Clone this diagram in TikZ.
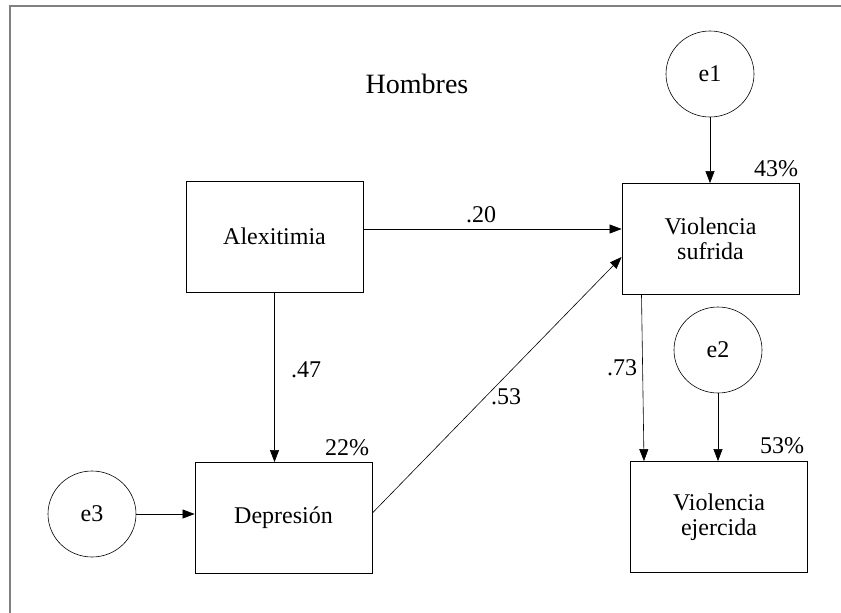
\documentclass[tikz,border=0pt]{standalone}
\usepackage{fontspec}
\setmainfont{Liberation Serif}
\usetikzlibrary{arrows.meta,shapes.geometric}

\tikzset{
  var/.style={draw, line width=0.8pt, minimum width=177pt, minimum height=111pt,
    align=center, font=\fontsize{24}{25}\selectfont},
  err/.style={draw, ellipse, line width=0.6pt, minimum width=88pt, minimum height=86pt,
    inner sep=0pt, font=\fontsize{24}{25}\selectfont},
  conn/.style={-{Triangle[length=12pt,width=9pt]}, line width=0.6pt},
  lbl/.style={anchor=base, font=\fontsize{24}{25}\selectfont},
}

\begin{document}
\begin{tikzpicture}[x=1pt,y=-1pt]
\useasboundingbox (0,0) rectangle (841,613);
\draw[gray, line width=1.5pt] (10,613) -- (10,6) -- (841,6);

\node[lbl, font=\fontsize{28}{30}\selectfont] (title) at (417,93) {Hombres};

% variables
\node[var] (alex) at (274.5,236.5) {Alexitimia};
\node[var] (sufrida) at (710.5,239) {Violencia\\sufrida};
\node[var] (depre) at (283.5,518) {Depresión};
\node[var] (ejercida) at (719,517) {Violencia\\ejercida};

% errores
\foreach \n/\x/\y in {e1/710/74, e2/718/350, e3/92/514}
  \node[err] (\n) at (\x,\y) {\n};

% caminos
\draw[conn] ([yshift=7.5pt]alex.east) -- ([yshift=7.5pt]alex.east -| sufrida.west);
\draw[conn] ([yshift=5pt]depre.east) -- ([yshift=-18pt]sufrida.west);
\draw[conn] (alex.south) -- (alex.south |- depre.north);
\draw[conn] ([xshift=-69pt]sufrida.south) -- ([xshift=-75pt]ejercida.north);
\draw[conn] (e1.south) -- (e1.south |- sufrida.north);
\draw[conn] (e2.south) -- (e2.south |- ejercida.north);
\draw[conn] (e3.east) -- (e3.east -| depre.west);

% coeficientes
\foreach \n/\x/\y/\t in {c20/481/222/.20, c47/306/377/.47, c53/506/404/.53, c73/622/375/.73}
  \node[lbl] (\n) at (\x,\y) {\t};
\foreach \n/\x/\y/\t in {r1/776/176/43, r2/782/453/53, r3/347/455/22}
  \node[lbl] (\n) at (\x,\y) {\t\%};
\end{tikzpicture}
\end{document}
